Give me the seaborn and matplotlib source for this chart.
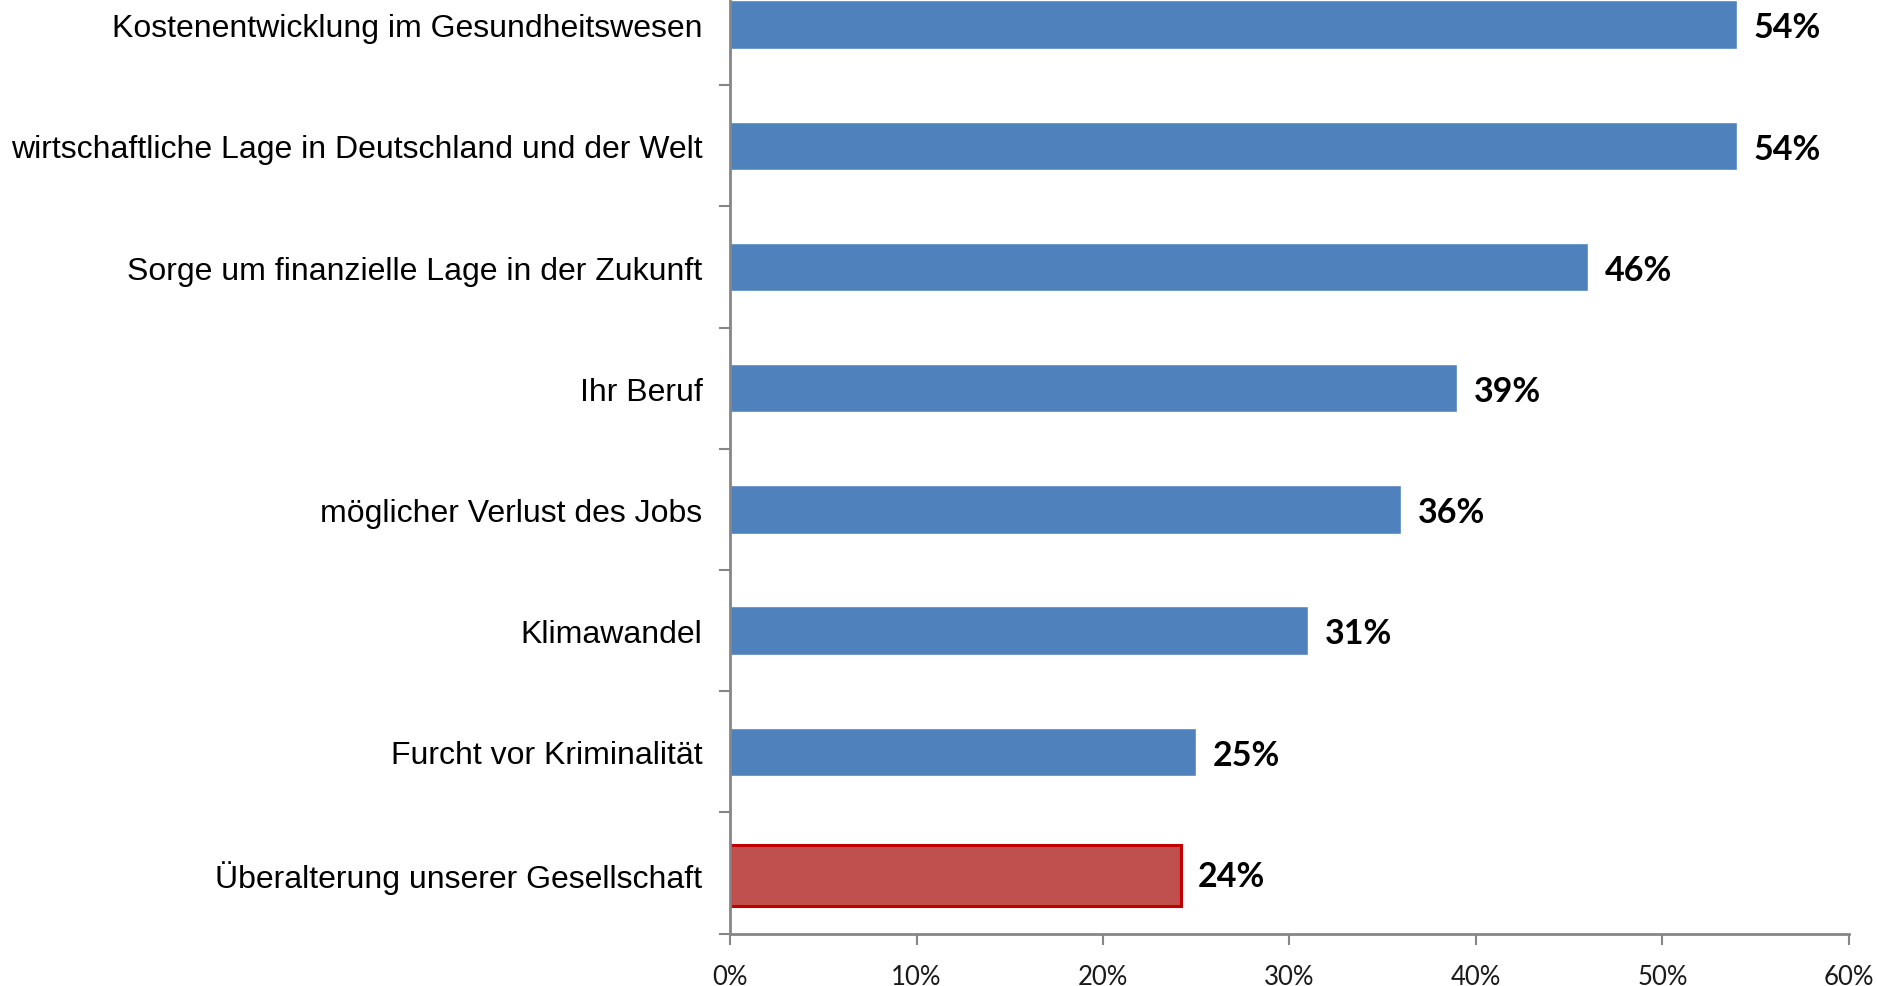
import numpy as np
import pandas as pd
import matplotlib
matplotlib.use('Agg')
import matplotlib.pyplot as plt
import seaborn as sns

# data
categories = ['Kostenentwicklung im Gesundheitswesen',
              'wirtschaftliche Lage in Deutschland und der Welt',
              'Sorge um finanzielle Lage in der Zukunft',
              'Ihr Beruf',
              'möglicher Verlust des Jobs',
              'Klimawandel',
              'Furcht vor Kriminalität',
              'Überalterung unserer Gesellschaft']
values = [54, 54, 46, 39, 36, 31, 25, 24.2]
xticks = [0, 10, 20, 30, 40, 50, 60]

blue = '#4F81BD'
red = '#C0504D'
colors = [blue] * 7 + [red]
gray = '#868686'

sns.set_style('white')
plt.rcParams['font.family'] = ['Liberation Sans', 'DejaVu Sans']

df = pd.DataFrame({'cat': categories, 'val': values})

fig = plt.figure(figsize=(18.77, 9.87), dpi=100)
ax = fig.add_axes([0.389, 0.053, 0.596, 0.9825])

sns.barplot(data=df, x='val', y='cat', hue='cat', palette=colors, legend=False,
            orient='h', width=0.4, ax=ax, saturation=1)

# highlighted bar: a bit taller, dark red edge
hl = ax.patches[-1]
c = hl.get_y() + hl.get_height() / 2
hl.set_height(0.51)
hl.set_y(c - 0.51 / 2 + 0.02)
hl.set_edgecolor('#C00000')
hl.set_linewidth(2.2)

ax.set_xlim(0, 60)
ax.set_ylim(7.5, -0.5)
ax.set_xlabel('')
ax.set_ylabel('')

ax.set_xticks(xticks)
ax.set_xticklabels(['{}%'.format(t) for t in xticks], family=['Lato', 'DejaVu Sans'],
                   fontsize=18.5, color='#1a1a1a')
ax.tick_params(axis='x', direction='out', length=8, width=1.5, color=gray, pad=14, bottom=True)

ax.set_yticks(range(len(categories)))
ax.set_yticklabels(categories, fontsize=23, color='black')
ax.tick_params(axis='y', which='major', length=0, pad=20)
ax.set_yticks(np.arange(-0.5, 8, 1), minor=True)
ax.tick_params(axis='y', which='minor', direction='out', length=8, width=1.5, color=gray, left=True)

for s in ['top', 'right']:
    ax.spines[s].set_visible(False)
for s in ['left', 'bottom']:
    ax.spines[s].set_color(gray)
    ax.spines[s].set_linewidth(2)

for i, v in enumerate(values):
    ax.annotate('{:.0f}%'.format(v), xy=(v, i), xytext=(12, -2), textcoords='offset points',
                va='center', ha='left', fontsize=24.5, fontweight='bold', color='black',
                family=['Lato', 'DejaVu Sans'])

fig.savefig('out.png', dpi=100)
